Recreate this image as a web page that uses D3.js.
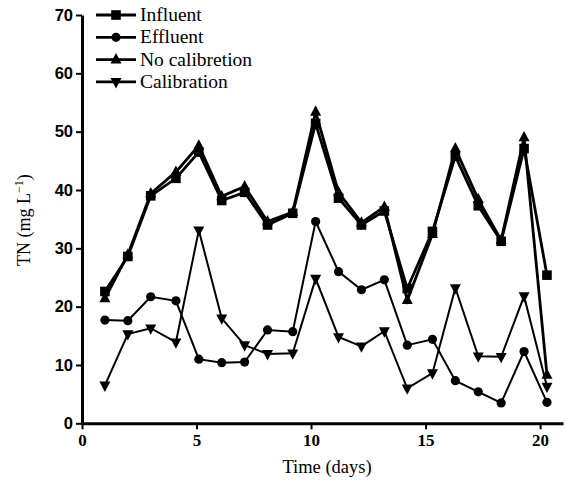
<!DOCTYPE html>
<html><head><meta charset="utf-8">
<script src="https://cdn.jsdelivr.net/npm/d3@7"></script>
<style>body{margin:0;background:#fff}svg{display:block}</style>
</head><body>
<svg id="c" width="565" height="484"></svg>
<script>
const days = [1.0,2.0,3.0,4.1,5.1,6.1,7.1,8.1,9.2,10.2,11.2,12.2,13.2,14.2,15.3,16.3,17.3,18.3,19.3,20.3];
const influent = [22.6,28.6,39.0,42.0,46.5,38.2,39.6,34.0,36.0,51.4,38.6,34.0,36.4,23.1,32.9,45.8,37.3,31.2,47.1,25.4];
const effluent = [17.7,17.6,21.7,21.0,11.0,10.4,10.5,16.0,15.7,34.6,26.0,22.9,24.6,13.4,14.4,7.3,5.4,3.5,12.3,3.6];
const noCalibration = [21.4,28.9,39.4,43.1,47.6,38.9,40.6,34.6,36.2,53.4,39.6,34.4,37.1,21.1,32.4,47.1,38.4,31.4,49.0,8.3];
const calibration = [6.5,15.3,16.3,13.9,33.1,18.0,13.4,11.9,12.0,24.8,14.8,13.2,15.8,6.0,8.6,23.2,11.5,11.4,21.8,6.3];
const seriesNames = ["Influent","Effluent","No calibretion","Calibration"];
const yTicks = [0,10,20,30,40,50,60,70];
const xTicks = [0,5,10,15,20];

const svg = d3.select("#c");
const x = d3.scaleLinear().domain([0,21]).range([82,563]);
const y = d3.scaleLinear().domain([0,70]).range([423.3,15]);

const series = [
  {name:seriesNames[0], vals:influent, sym:"square", w:2.8},
  {name:seriesNames[1], vals:effluent, sym:"circle", w:2},
  {name:seriesNames[2], vals:noCalibration, sym:"up", w:2.8},
  {name:seriesNames[3], vals:calibration, sym:"down", w:2}
];

function marker(g, type, cx, cy){
  if(type==="square") g.append("rect").attr("x",cx-4.8).attr("y",cy-4.8).attr("width",9.6).attr("height",9.6).attr("fill","#000");
  else if(type==="circle") g.append("circle").attr("cx",cx).attr("cy",cy).attr("r",4.6).attr("fill","#000");
  else if(type==="up") g.append("path").attr("d",`M${cx},${cy-6.5}L${cx+5.5},${cy+3.8}L${cx-5.5},${cy+3.8}Z`).attr("fill","#000");
  else g.append("path").attr("d",`M${cx},${cy+6.5}L${cx+5.5},${cy-3.8}L${cx-5.5},${cy-3.8}Z`).attr("fill","#000");
}

const line = d3.line().x(d=>x(d[0])).y(d=>y(d[1]));
const plot = svg.append("g");
[3,1,2,0].forEach(i=>{
  const s = series[i];
  const pts = days.map((d,k)=>[d,s.vals[k]]);
  plot.append("path").attr("d",line(pts)).attr("fill","none").attr("stroke","#000").attr("stroke-width",s.w).attr("stroke-linejoin","miter");
  pts.forEach(p=>marker(plot,s.sym,x(p[0]),y(p[1])));
});

const xAxis = svg.append("g").attr("transform","translate(0,423.3)")
  .call(d3.axisBottom(x).tickValues(xTicks).tickSize(6).tickSizeOuter(0).tickPadding(5));
xAxis.select(".domain").attr("stroke-width",3);
xAxis.selectAll(".tick line").attr("stroke-width",2);
xAxis.selectAll("text").attr("font-family","'Liberation Serif',serif").attr("font-weight","bold").attr("font-size",17).attr("fill","#000");

const yAxis = svg.append("g").attr("transform","translate(82,0)")
  .call(d3.axisLeft(y).tickValues(yTicks).tickSize(6).tickSizeOuter(0).tickPadding(3));
yAxis.select(".domain").attr("stroke-width",3);
yAxis.selectAll(".tick line").attr("stroke-width",2);
yAxis.selectAll("text").attr("font-family","'Liberation Sans',sans-serif").attr("font-weight","bold").attr("font-size",16.5).attr("fill","#000");

svg.append("text").attr("x",327).attr("y",473).attr("text-anchor","middle")
  .attr("font-family","'Liberation Serif',serif").attr("font-size",18.5).attr("fill","#000").text("Time (days)");
const yl = svg.append("text").attr("transform","translate(30,220) rotate(-90)").attr("text-anchor","middle")
  .attr("font-family","'Liberation Serif',serif").attr("font-size",18).attr("fill","#000");
yl.append("tspan").text("TN (mg L");
yl.append("tspan").attr("dy",-7).attr("font-size",12).text("\u22121");
yl.append("tspan").attr("dy",7).text(")");

const leg = svg.append("g");
[0,1,2,3].forEach((i,k)=>{
  const cy = 15 + k*22.3;
  const s = series[i];
  leg.append("line").attr("x1",96).attr("x2",136).attr("y1",cy).attr("y2",cy).attr("stroke","#000").attr("stroke-width",2.8);
  marker(leg,s.sym,116,cy);
  leg.append("text").attr("x",140).attr("y",cy+6).attr("font-family","'Liberation Serif',serif").attr("font-size",19.5).attr("fill","#000").text(s.name);
});
</script>
</body></html>
